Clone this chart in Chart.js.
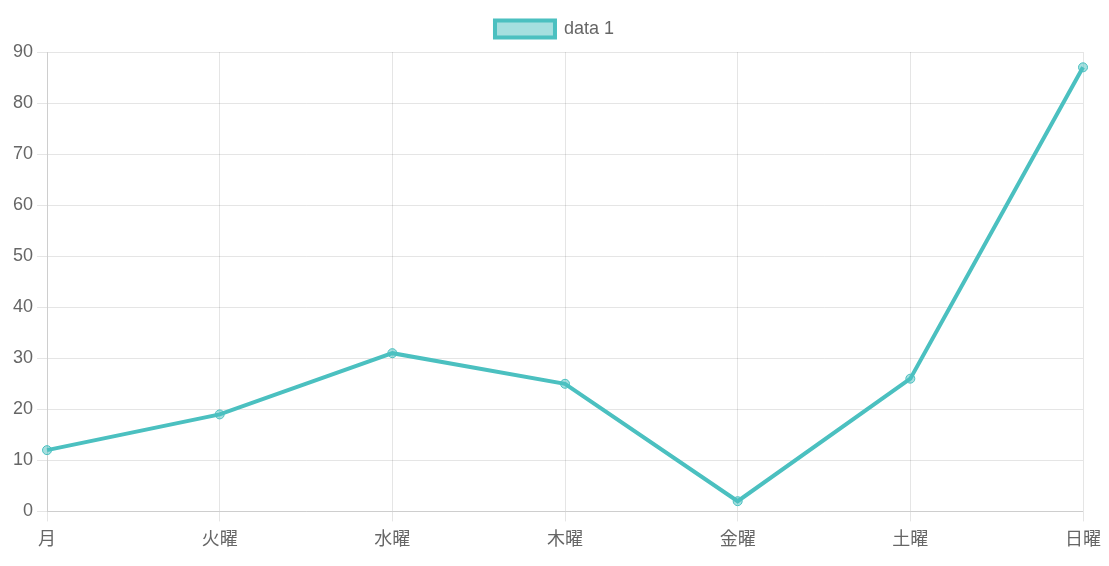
<!DOCTYPE html>
<html>
<head>
<meta charset="utf-8">
<script src="https://cdn.jsdelivr.net/npm/chart.js@4"></script>
<style>
  html, body { margin: 0; padding: 0; background: #fff; }
  #wrap { width: 1109px; height: 566px; }
</style>
</head>
<body>
<div id="wrap"><canvas id="myChart"></canvas></div>
<script>
// days of week, one series
const labels = ['月', '火曜', '水曜', '木曜', '金曜', '土曜', '日曜'];
const data1 = [12, 19, 31, 25, 2, 26, 87];

Chart.defaults.font.family = "'Liberation Sans', Arial, 'Noto Sans CJK JP', sans-serif";
Chart.defaults.font.size = 18;
Chart.defaults.color = '#666';

// layout padding is lopsided, so move the legend back to the page centre
// and leave a bit more room under it
const centreLegend = {
  id: 'centreLegend',
  beforeLayout(chart) {
    const lg = chart.legend;
    if (lg && !lg._extraGap) {
      const fit = lg.fit;
      lg.fit = function() { fit.call(this); this.height += 4; };
      lg._extraGap = true;
    }
  },
  afterLayout(chart) {
    const lg = chart.legend;
    const shift = chart.width / 2 - (lg.left + lg.right) / 2;
    lg.left += shift;
    lg.right += shift;
  }
};

var ctx = document.getElementById('myChart');
var myChart = new Chart(ctx, {
  type: 'line',
  data: {
    labels: labels,
    datasets: [{
      label: 'data 1',
      data: data1,
      borderColor: 'rgb(75, 192, 192)',
      backgroundColor: 'rgba(75, 192, 192, 0.5)',
      borderWidth: 4,
      pointRadius: 4.5,
      pointBorderWidth: 1,
      tension: 0,
      fill: false
    }]
  },
  options: {
    responsive: true,
    maintainAspectRatio: false,
    animation: false,
    layout: { padding: { left: 9, right: 23, top: 6, bottom: 7 } },
    plugins: {
      legend: {
        display: true,
        labels: { boxWidth: 60, boxHeight: 17, padding: 14 }
      }
    },
    scales: {
      x: {
        grid: { color: 'rgba(0,0,0,0.1)', tickLength: 10 },
        ticks: { maxRotation: 0, padding: 8 }
      },
      y: {
        min: 0,
        max: 90,
        ticks: { stepSize: 10, padding: 4 },
        grid: { color: 'rgba(0,0,0,0.1)', tickLength: 10 }
      }
    }
  },
  plugins: [centreLegend]
});
</script>
</body>
</html>
